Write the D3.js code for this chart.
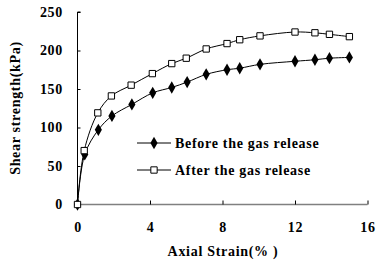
<!DOCTYPE html>
<html><head><meta charset="utf-8">
<script src="https://cdn.jsdelivr.net/npm/d3@7"></script>
<style>html,body{margin:0;padding:0;background:#fff;}svg{display:block;}</style>
</head><body>
<svg id="c" width="376" height="269"></svg>
<script>
const strainBefore = [0, 0.4, 1.15, 1.9, 3.0, 4.15, 5.2, 6.05, 7.1, 8.25, 8.95, 10.07, 12.0, 13.1, 13.9, 15.0];
const before = [0, 65, 97, 115, 130, 145, 152, 159, 169, 175, 177, 182, 186, 188, 190, 191];
const strainAfter = [0, 0.37, 1.12, 1.87, 2.96, 4.13, 5.2, 6.0, 7.1, 8.25, 8.95, 10.07, 12.0, 13.1, 13.9, 15.0];
const after = [0, 70, 119, 141, 155, 170, 183, 190, 202, 209, 214, 219, 224, 223, 221, 218];
const xTicks = [0, 4, 8, 12, 16];
const yTicks = [0, 50, 100, 150, 200, 250];
const seriesNames = ["Before the gas release", "After the gas release"];

const svg = d3.select("#c");
const x = d3.scaleLinear().domain([0, 16]).range([77.5, 367.5]);
const y = d3.scaleLinear().domain([0, 250]).range([204.5, 12]);
const font = "'Liberation Serif','Times New Roman',serif";
const ls = "0.7px";

function txt(sel) {
  return sel.attr("font-family", font).attr("font-weight", "bold")
    .attr("font-size", 14).attr("letter-spacing", ls).attr("fill", "#000");
}

// y axis
const ya = svg.append("g").attr("transform", `translate(${x(0)},0)`)
  .call(d3.axisRight(y).tickValues(yTicks).tickSize(3).tickFormat(""));
ya.select(".domain").attr("stroke", "#000").attr("d", `M3,${y(250)}H0V${y(0)}`);
ya.selectAll(".tick line").attr("stroke", "#000");
svg.append("g").selectAll("text").data(yTicks).join("text")
  .attr("x", 63).attr("y", d => y(d)).attr("dy", "0.35em")
  .attr("text-anchor", "end").call(txt).text(d => d);

// x axis
const xa = svg.append("g").attr("transform", `translate(0,${y(0)})`)
  .call(d3.axisTop(x).tickValues(xTicks).tickSize(4).tickFormat(""));
xa.select(".domain").attr("stroke", "#808080").attr("stroke-width", 1.5).attr("d", `M${x(0)},0H${x(16)}`);
xa.selectAll(".tick line").attr("stroke", "#000");
svg.append("g").selectAll("text").data(xTicks).join("text")
  .attr("x", d => x(d) + 0.5).attr("y", 232)
  .attr("text-anchor", "middle").call(txt).text(d => d);

// titles
svg.append("text").attr("x", 223).attr("y", 256).attr("text-anchor", "middle")
  .call(txt).text("Axial Strain(% )");
svg.append("text").attr("transform", "translate(20,108) rotate(-90)").attr("text-anchor", "middle")
  .call(txt).text("Shear strength(kPa)");

const line = d3.line().x(d => x(d[0])).y(d => y(d[1])).curve(d3.curveCatmullRom.alpha(0.5));
const dB = strainBefore.map((s, i) => [s, before[i]]);
const dA = strainAfter.map((s, i) => [s, after[i]]);

svg.append("path").datum(dB).attr("d", line).attr("fill", "none").attr("stroke", "#000").attr("stroke-width", 1);
svg.append("path").datum(dA).attr("d", line).attr("fill", "none").attr("stroke", "#000").attr("stroke-width", 1);

const diamond = d3.symbol().type(d3.symbolDiamond).size(44);
const square = d3.symbol().type(d3.symbolSquare).size(40);

svg.append("g").selectAll("path").data(dB).join("path")
  .attr("transform", d => `translate(${x(d[0])},${y(d[1])})`)
  .attr("d", diamond).attr("fill", "#000");
svg.append("g").selectAll("path").data(dA).join("path")
  .attr("transform", d => `translate(${x(d[0])},${y(d[1])})`)
  .attr("d", square).attr("fill", "#fff").attr("stroke", "#000").attr("stroke-width", 1);

// legend
const lg = svg.append("g");
const legY = [143, 170];
seriesNames.forEach((name, i) => {
  lg.append("line").attr("x1", 137).attr("x2", 171).attr("y1", legY[i]).attr("y2", legY[i])
    .attr("stroke", "#000");
  if (i === 0) {
    lg.append("path").attr("transform", `translate(154,${legY[i]})`)
      .attr("d", diamond).attr("fill", "#000");
  } else {
    lg.append("path").attr("transform", `translate(154,${legY[i]})`)
      .attr("d", square).attr("fill", "#fff").attr("stroke", "#000");
  }
  lg.append("text").attr("x", 175).attr("y", legY[i]).attr("dy", "0.35em")
    .call(txt).text(name);
});
</script>
</body></html>
